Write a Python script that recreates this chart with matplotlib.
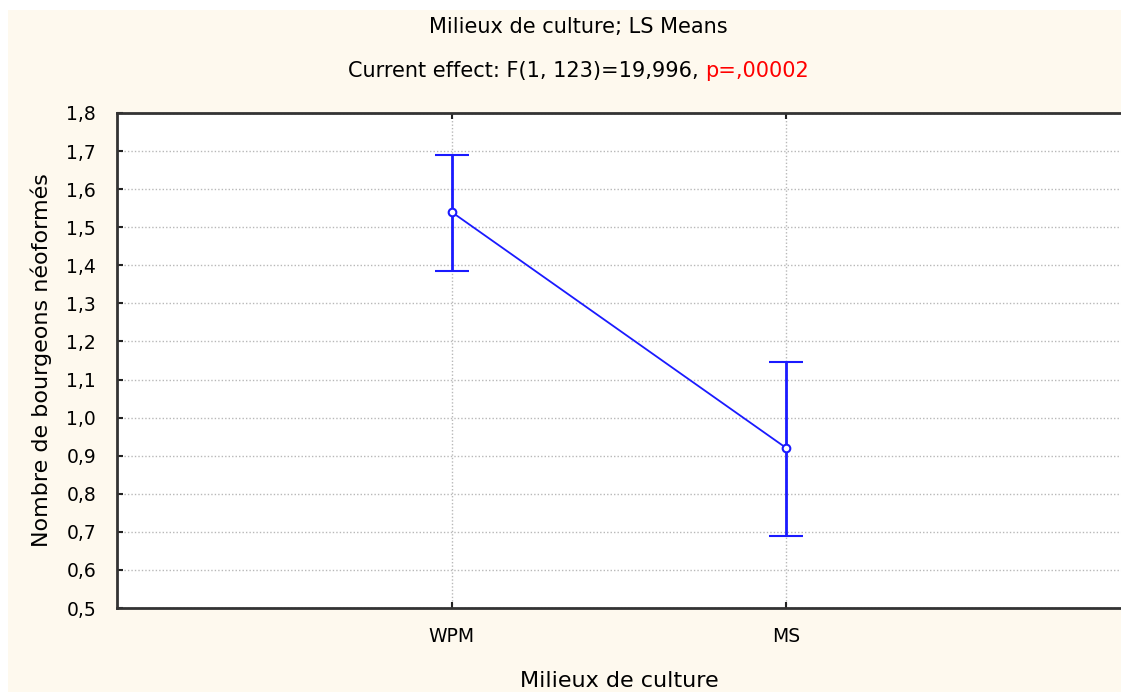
import matplotlib.pyplot as plt
from matplotlib.patches import Rectangle
from matplotlib.ticker import FuncFormatter, MultipleLocator

# LS means with confidence limits
milieux = ["WPM", "MS"]
moyennes = [1.54, 0.92]
borne_haute = [1.69, 1.145]
borne_basse = [1.385, 0.69]

fig = plt.figure(figsize=(11.21, 6.92), dpi=100)
fig.patch.set_facecolor("white")
fig.patches.append(Rectangle((8 / 1121, 0), 1, (692 - 10) / 692, transform=fig.transFigure,
                             facecolor="#fef9ee", edgecolor="none", zorder=-10))

ax = fig.add_axes([117 / 1121, (692 - 608) / 692, (1121 - 117) / 1121, (608 - 113) / 692])
ax.set_facecolor("white")

x = list(range(len(milieux)))
err_bas = [m - b for m, b in zip(moyennes, borne_basse)]
err_haut = [h - m for m, h in zip(moyennes, borne_haute)]

ax.errorbar(x, moyennes, yerr=[err_bas, err_haut], color="#1a1aff", linewidth=1.3,
            elinewidth=2, capsize=12.5, capthick=2, marker="o", markersize=5.5,
            markerfacecolor="white", markeredgecolor="#1a1aff", markeredgewidth=1.5, zorder=3)

ax.set_xlim(-1, 2)
ax.set_ylim(0.5, 1.8)
ax.set_xticks(x)
ax.set_xticklabels(milieux)
ax.yaxis.set_major_locator(MultipleLocator(0.1))
ax.yaxis.set_major_formatter(FuncFormatter(lambda v, p: f"{v:.1f}".replace(".", ",")))

ax.grid(True, color="#b8b8b8", linestyle=(0, (1, 1.5)), linewidth=1)
ax.tick_params(direction="in", length=4, width=1.5, color="#222222", labelsize=13.5,
               top=True)
ax.tick_params(axis="y", pad=15)
ax.tick_params(axis="x", pad=14)
for side in ["left", "bottom", "top"]:
    ax.spines[side].set_linewidth(2)
    ax.spines[side].set_color("#333333")
ax.spines["right"].set_visible(False)

ax.set_ylabel("Nombre de bourgeons néoformés", fontsize=16, labelpad=10)
ax.set_xlabel("Milieux de culture", fontsize=16, labelpad=18)

fig.text(578 / 1121, 1 - 27 / 692, "Milieux de culture; LS Means", ha="center", va="center",
         fontsize=15)

# second title line: black part + red p-value, centred together
y2 = 1 - 71 / 692
t1 = fig.text(0, y2, "Current effect: F(1, 123)=19,996, ", ha="left", va="center", fontsize=15)
t2 = fig.text(0, y2, "p=,00002", ha="left", va="center", fontsize=15, color="red")
fig.canvas.draw()
w1 = t1.get_window_extent().width
w2 = t2.get_window_extent().width
start = 578 - (w1 + w2) / 2
t1.set_x(start / 1121)
t2.set_x((start + w1) / 1121)

fig.savefig("out.png", dpi=100)
